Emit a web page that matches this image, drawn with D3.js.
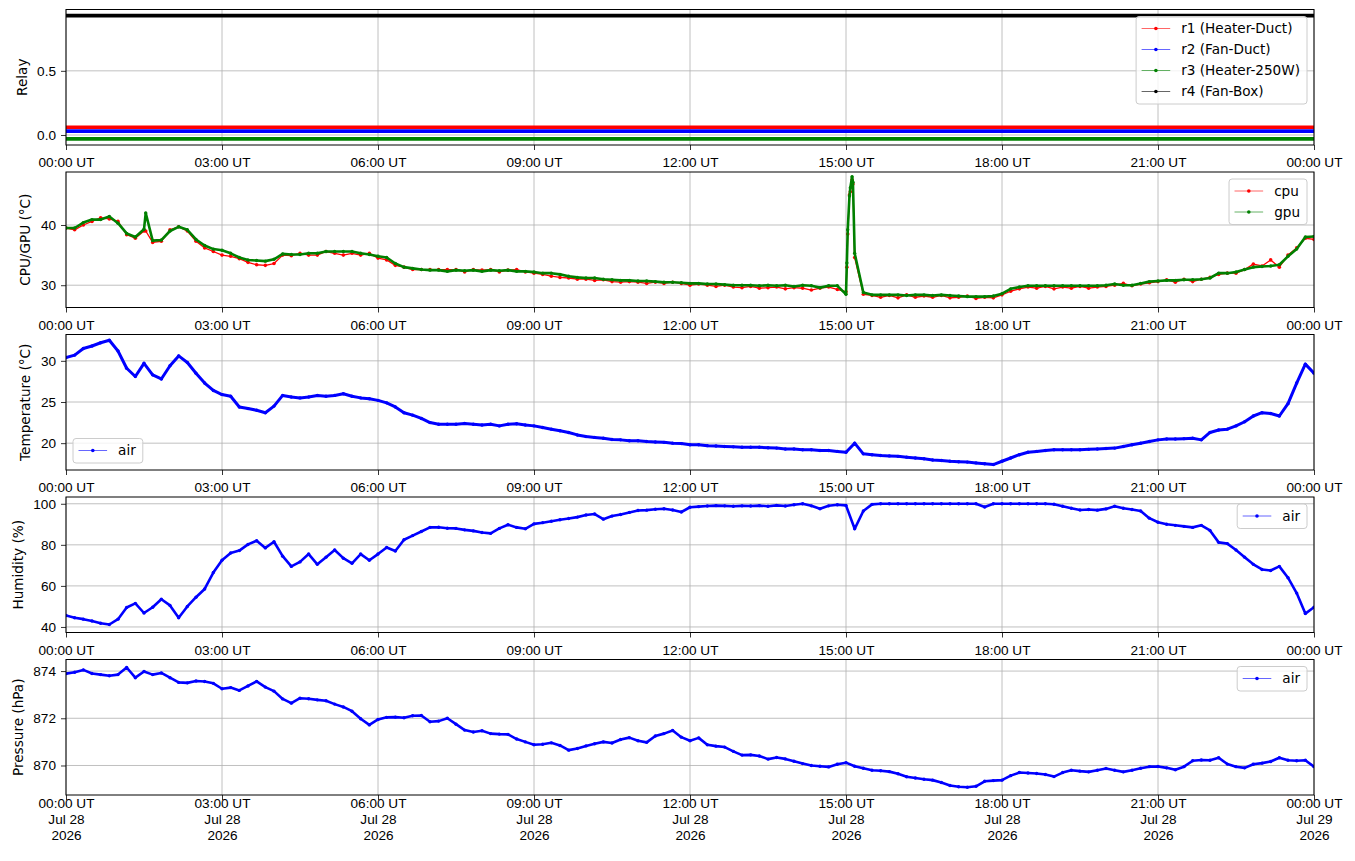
<!DOCTYPE html>
<html lang="en">
<head>
  <meta charset="utf-8"/>
  <title>Enclosure log – Jul 28 2026</title>
  <script src="https://cdn.jsdelivr.net/npm/d3@7/dist/d3.min.js"></script>
  <style>
    html, body { margin:0; padding:0; background:#fff; overflow:hidden; }
    svg { display:block; font-family:"DejaVu Sans", sans-serif; }
    .grid line { stroke:#b0b0b0; stroke-width:0.8; }
    .axis text { font-size:13.6px; fill:#000; }
    .axis line { stroke:#000; stroke-width:0.8; }
    .frame { fill:none; stroke:#000; stroke-width:1; }
    .ylabel { font-size:13.6px; fill:#000; }
    .legend text { font-size:13.6px; fill:#000; }
  </style>
</head>
<body>
<svg width="1355" height="861"></svg>
<script>
// --- data: one sample every 10 minutes, 00:00 UT Jul 28 -> 00:00 UT Jul 29 (one row per hour)
const START = Date.UTC(2026, 6, 28, 0, 0);
const STEP_MIN = 10;

const relayNames  = ["r1 (Heater-Duct)", "r2 (Fan-Duct)", "r3 (Heater-250W)", "r4 (Fan-Box)"];
const relayColors = ["red", "blue", "green", "black"];
const relayLevels = [0.06, 0.03, -0.03, 0.93];

const cpu = [
  39.5, 39.2, 40.0, 40.6, 41.2, 41.0,
  40.6, 38.4, 37.8, 39.0, 37.1, 37.3,
  39.2, 39.7, 39.0, 37.3, 36.2, 35.6,
  35.0, 34.8, 34.4, 33.8, 33.4, 33.3,
  33.6, 35.0, 34.9, 35.3, 35.0, 35.0,
  35.6, 35.3, 35.0, 35.3, 35.0, 35.3,
  34.5, 34.2, 33.3, 33.0, 32.6, 32.6,
  32.6, 32.6, 32.6, 32.6, 32.2, 32.6,
  32.5, 32.6, 32.2, 32.5, 32.6, 32.2,
  32.0, 31.8, 31.5, 31.3, 31.2, 31.0,
  31.0, 30.8, 30.9, 30.6, 30.5, 30.6,
  30.5, 30.3, 30.5, 30.3, 30.5, 30.3,
  30.0, 30.2, 30.0, 29.8, 30.0, 29.7,
  29.6, 29.8, 29.5, 29.6, 29.7, 29.4,
  29.6, 29.5, 29.2, 29.5, 29.7, 29.3,
  28.9, 34.6, 28.5, 28.3, 28.0, 28.3,
  27.9, 28.4, 28.0, 28.2, 28.0, 28.3,
  27.9, 28.0, 28.2, 27.8, 28.0, 27.9,
  28.4, 29.0, 29.4, 29.7, 29.5, 29.8,
  29.4, 29.7, 29.5, 29.8, 29.5, 29.7,
  29.8, 30.0, 30.3, 29.9, 30.2, 30.4,
  30.6, 30.9, 30.5, 31.0, 30.6, 31.0,
  31.3, 31.8, 32.0, 32.0, 32.6, 33.5,
  33.2, 34.2, 33.0, 35.0, 36.2, 37.8,
  37.6
];
const gpu = [
  39.5, 39.5, 40.4, 40.9, 40.9, 41.4,
  40.3, 38.6, 38.0, 39.3, 37.4, 37.5,
  39.0, 39.7, 39.2, 37.6, 36.6, 36.0,
  35.8, 35.3, 34.6, 34.2, 34.1, 34.0,
  34.3, 35.2, 35.1, 35.1, 35.3, 35.3,
  35.6, 35.6, 35.6, 35.6, 35.3, 35.1,
  34.8, 34.6, 33.6, 33.0, 32.8, 32.6,
  32.5, 32.5, 32.3, 32.5, 32.4, 32.5,
  32.3, 32.5, 32.4, 32.5, 32.3, 32.3,
  32.2, 32.0, 32.0, 31.8, 31.5, 31.3,
  31.2, 31.2, 31.0, 30.9, 30.8, 30.8,
  30.7, 30.7, 30.6, 30.5, 30.5, 30.4,
  30.3, 30.3, 30.2, 30.2, 30.1, 30.0,
  30.0, 30.0, 29.9, 30.0, 29.9, 30.0,
  29.8, 30.0, 29.9, 29.6, 29.9, 29.9,
  28.5, 35.3, 28.8, 28.4, 28.4, 28.4,
  28.4, 28.3, 28.4, 28.4, 28.3, 28.4,
  28.3, 28.2, 28.1, 28.1, 28.1, 28.2,
  28.6, 29.4, 29.7, 29.9, 29.9, 29.9,
  29.9, 29.9, 29.9, 29.9, 29.9, 29.9,
  30.0, 30.2, 30.0, 30.0, 30.3, 30.6,
  30.7, 30.8, 30.8, 30.9, 30.9, 31.0,
  31.2, 32.0, 32.0, 32.2, 32.6, 33.0,
  33.1, 33.2, 33.4, 34.8, 36.0, 38.0,
  38.1
];
// extra CPU/GPU samples between the 10-minute rows (minutes after 00:00)
const extraMinutes = [92, 901, 902, 904, 905, 907, 908];
const cpuExtra     = [39.0, 33.0, 38.5, 45.0, 45.5, 47.5, 46.8];
const gpuExtra     = [42.0, 33.7, 39.2, 44.8, 46.2, 48.0, 47.1];

const tempAir = [
  30.4, 30.7, 31.5, 31.8, 32.2, 32.5,
  31.2, 29.1, 28.1, 29.7, 28.3, 27.8,
  29.4, 30.6, 29.8, 28.5, 27.3, 26.4,
  25.9, 25.7, 24.4, 24.2, 24.0, 23.7,
  24.5, 25.8, 25.6, 25.5, 25.6, 25.8,
  25.7, 25.8, 26.0, 25.7, 25.5, 25.4,
  25.2, 24.9, 24.4, 23.7, 23.4, 23.0,
  22.5, 22.3, 22.3, 22.3, 22.4, 22.3,
  22.2, 22.3, 22.1, 22.3, 22.35, 22.2,
  22.1, 21.9, 21.7, 21.5, 21.3, 21.0,
  20.8, 20.7, 20.6, 20.45, 20.4, 20.3,
  20.3, 20.2, 20.15, 20.1, 20.0, 19.95,
  19.8, 19.8, 19.7, 19.65, 19.6, 19.55,
  19.5, 19.5, 19.5, 19.45, 19.4, 19.3,
  19.3, 19.2, 19.2, 19.1, 19.1, 19.0,
  18.9, 20.0, 18.7, 18.6, 18.5, 18.45,
  18.4, 18.3, 18.2, 18.1, 17.95, 17.9,
  17.8, 17.75, 17.7, 17.6, 17.5, 17.4,
  17.8, 18.2, 18.6, 18.9, 19.0, 19.1,
  19.2, 19.2, 19.2, 19.2, 19.25, 19.3,
  19.35, 19.4, 19.6, 19.8, 20.0, 20.2,
  20.4, 20.5, 20.5, 20.55, 20.6, 20.4,
  21.3, 21.6, 21.7, 22.1, 22.6, 23.3,
  23.7, 23.6, 23.3, 24.8, 27.3, 29.6,
  28.5
];
const humAir = [
  45.6, 44.5, 43.8, 42.9, 41.8, 41.2,
  43.8, 49.5, 51.5, 46.8, 49.6, 53.5,
  50.5, 44.5, 50.0, 54.5, 58.5, 66.5,
  72.5, 76.0, 77.2, 80.2, 82.0, 78.5,
  81.5, 74.5, 69.5, 71.7, 75.5, 70.5,
  74.0, 77.5, 73.5, 71.0, 75.5, 72.5,
  75.5, 78.7, 77.0, 82.5, 84.5, 86.5,
  88.5, 88.6, 88.1, 88.0, 87.3, 86.8,
  86.0, 85.6, 88.0, 89.8, 88.5, 87.8,
  90.2, 90.8, 91.5, 92.2, 92.8, 93.5,
  94.5, 95.0, 92.5, 94.0, 94.8, 95.8,
  96.7, 96.9, 97.3, 97.6, 97.0, 96.0,
  98.3, 98.6, 98.9, 99.1, 99.0, 98.8,
  99.0, 98.9, 99.1, 98.8, 99.2, 98.9,
  99.5, 100, 99.0, 97.6, 99.0, 99.5,
  99.2, 87.8, 96.5, 99.7, 100, 100,
  100, 100, 100, 100, 100, 100,
  100, 100, 100, 100, 98.4, 100,
  100, 100, 100, 100, 100, 100,
  99.8, 98.8, 97.8, 97.0, 97.2, 96.9,
  97.5, 98.8, 97.8, 97.2, 96.5, 93.0,
  91.0, 90.0, 89.5, 89.0, 88.5, 89.5,
  87.0, 81.2, 80.6, 77.5, 74.0, 70.5,
  68.0, 67.5, 69.5, 64.0, 56.5, 46.5,
  49.6
];
const pressAir = [
  873.89, 873.95, 874.05, 873.90, 873.85, 873.80,
  873.85, 874.15, 873.72, 873.98, 873.85, 873.92,
  873.72, 873.52, 873.50, 873.58, 873.56, 873.48,
  873.25, 873.30, 873.18, 873.37, 873.56, 873.32,
  873.15, 872.82, 872.64, 872.85, 872.83, 872.78,
  872.74, 872.60, 872.48, 872.30, 871.98, 871.72,
  871.95, 872.04, 872.05, 872.02, 872.11, 872.12,
  871.85, 871.88, 872.00, 871.75, 871.50, 871.42,
  871.47, 871.35, 871.33, 871.32, 871.12, 871.00,
  870.88, 870.90, 870.96, 870.85, 870.65, 870.72,
  870.83, 870.92, 871.00, 870.95, 871.10, 871.18,
  871.05, 870.98, 871.25, 871.35, 871.48, 871.20,
  871.05, 871.17, 870.88, 870.82, 870.78, 870.60,
  870.44, 870.45, 870.40, 870.27, 870.34, 870.28,
  870.18, 870.08, 870.00, 869.97, 869.94, 870.05,
  870.12, 869.97, 869.88, 869.80, 869.78, 869.74,
  869.65, 869.52, 869.47, 869.42, 869.38, 869.28,
  869.15, 869.10, 869.08, 869.12, 869.33, 869.36,
  869.38, 869.57, 869.70, 869.68, 869.66, 869.62,
  869.53, 869.70, 869.80, 869.76, 869.73, 869.80,
  869.87, 869.80, 869.73, 869.80, 869.88, 869.95,
  869.96, 869.90, 869.82, 869.95, 870.20, 870.23,
  870.22, 870.33, 870.06, 869.95, 869.90, 870.05,
  870.10, 870.17, 870.33, 870.22, 870.20, 870.22,
  869.95
];

const relayTicks = [0, 0.5];
const cpuTicks   = [30, 40];
const tempTicks  = [20, 25, 30];
const humTicks   = [40, 60, 80, 100];
const pressTicks = [870, 872, 874];

// --- layout
const svg = d3.select("svg");
const LEFT = 66, RIGHT = 1314, TOP0 = 9.5, STEP = 162.5, PH = 135.5;
const END = START + 24 * 3600e3;
const x = d3.scaleUtc().domain([START, END]).range([LEFT, RIGHT]);
const xTicks = d3.utcHour.every(3).range(new Date(START), new Date(END + 1));
const fmtTime = d3.utcFormat("%H:%M UT");

function toPts(vals) {
  return vals.map((v, i) => ({ t: new Date(START + i * STEP_MIN * 60e3), v }));
}
function withExtra(vals, extra) {
  const pts = toPts(vals).concat(extraMinutes.map((m, i) => ({ t: new Date(START + m * 60e3), v: extra[i] })));
  return pts.sort((a, b) => a.t - b.t);
}

function panel(k, domain, ticks, fmt, label, bottom) {
  const top = TOP0 + k * STEP, bot = top + PH;
  const y = d3.scaleLinear().domain(domain).range([bot, top]);
  const g = svg.append("g");

  // grid
  const grid = g.append("g").attr("class", "grid");
  grid.selectAll("line.v").data(xTicks).join("line").attr("class", "v")
    .attr("x1", d => x(d)).attr("x2", d => x(d)).attr("y1", top).attr("y2", bot);
  grid.selectAll("line.h").data(ticks).join("line").attr("class", "h")
    .attr("x1", LEFT).attr("x2", RIGHT).attr("y1", d => y(d)).attr("y2", d => y(d));

  // plot area (clipped)
  const cid = "clip" + k;
  svg.append("clipPath").attr("id", cid).append("rect")
    .attr("x", LEFT).attr("y", top).attr("width", RIGHT - LEFT).attr("height", PH);
  const plot = g.append("g").attr("clip-path", `url(#${cid})`);

  // axes
  const ax = g.append("g").attr("class", "axis").attr("transform", `translate(0,${bot})`)
    .call(d3.axisBottom(x).tickValues(xTicks).tickSize(5).tickSizeOuter(0).tickPadding(7.5)
      .tickFormat(bottom ? () => "" : fmtTime));
  ax.select(".domain").remove();
  if (bottom) {
    ax.selectAll(".tick text").each(function (d) {
      const t = d3.select(this);
      [fmtTime(d), d3.utcFormat("%b %d")(d), d3.utcFormat("%Y")(d)].forEach((s, i) => {
        t.append("tspan").attr("x", 0).attr("dy", i === 0 ? "0" : "1.2em").text(s);
      });
    });
  }
  const ay = g.append("g").attr("class", "axis").attr("transform", `translate(${LEFT},0)`)
    .call(d3.axisLeft(y).tickValues(ticks).tickSize(5).tickSizeOuter(0).tickPadding(5).tickFormat(fmt));
  ay.select(".domain").remove();

  const bb = ay.node().getBBox();
  g.append("text").attr("class", "ylabel")
    .attr("transform", `translate(${LEFT + bb.x - 10.5},${top + PH / 2}) rotate(-90)`)
    .attr("text-anchor", "middle").text(label);

  g.append("rect").attr("class", "frame")
    .attr("x", LEFT).attr("y", top).attr("width", RIGHT - LEFT).attr("height", PH);

  return { g, plot, y, top, bot };
}

function drawSeries(p, pts, color, lw, r) {
  const line = d3.line().x(d => x(d.t)).y(d => p.y(d.v));
  p.plot.append("path").datum(pts).attr("d", line)
    .attr("fill", "none").attr("stroke", color).attr("stroke-width", lw)
    .attr("stroke-linejoin", "round");
  if (r > 0) {
    p.plot.append("g").selectAll("circle").data(pts).join("circle")
      .attr("cx", d => x(d.t)).attr("cy", d => p.y(d.v)).attr("r", r).attr("fill", color);
  }
}

function legend(p, entries, corner) {
  const lg = p.g.append("g").attr("class", "legend");
  const tmp = lg.append("text");
  const tw = d3.max(entries, e => { tmp.text(e.name); return tmp.node().getComputedTextLength(); });
  tmp.remove();
  const bw = 5.5 + 28.6 + 11 + tw + 7;
  const bh = 12 + (entries.length - 1) * 21 + 12.5;
  const bx = corner === "ll" ? LEFT + 7 : RIGHT - 7 - bw;
  const by = corner === "ll" ? p.bot - 7 - bh : p.top + 7;
  lg.append("rect").attr("x", bx).attr("y", by).attr("width", bw).attr("height", bh)
    .attr("rx", 3).attr("fill", "#fff").attr("fill-opacity", 0.8)
    .attr("stroke", "#cccccc").attr("stroke-width", 1);
  entries.forEach((e, i) => {
    const cy = by + 12 + i * 21;
    lg.append("line").attr("x1", bx + 5.5).attr("x2", bx + 34.1).attr("y1", cy).attr("y2", cy)
      .attr("stroke", e.color).attr("stroke-width", 1).attr("stroke-opacity", 0.6);
    lg.append("circle").attr("cx", bx + 19.8).attr("cy", cy).attr("r", 1.8).attr("fill", e.color);
    lg.append("text").attr("x", bx + 45.1).attr("y", cy).attr("dy", "0.35em").text(e.name);
  });
}

// --- relay panel
const pRelay = panel(0, [-0.078, 0.978], relayTicks, d3.format(".1f"), "Relay");
relayLevels.forEach((lv, i) => {
  drawSeries(pRelay, [{ t: new Date(START), v: lv }, { t: new Date(END), v: lv }], relayColors[i], 3.6, 0);
});
legend(pRelay, relayNames.map((n, i) => ({ name: n, color: relayColors[i] })), "ur");

// --- cpu / gpu panel (gpu drawn on top, cpu shows where it differs)
const pCpu = panel(1, [26.3, 48.8], cpuTicks, d3.format("d"), "CPU/GPU (°C)");
drawSeries(pCpu, withExtra(cpu, cpuExtra), "red", 1.3, 1.8);
drawSeries(pCpu, withExtra(gpu, gpuExtra), "green", 2.6, 1.7);
legend(pCpu, [{ name: "cpu", color: "red" }, { name: "gpu", color: "green" }], "ur");

// --- temperature panel
const pTemp = panel(2, [16.74, 33.2], tempTicks, d3.format("d"), "Temperature (°C)");
drawSeries(pTemp, toPts(tempAir), "blue", 3, 1.7);
legend(pTemp, [{ name: "air", color: "blue" }], "ll");

// --- humidity panel
const pHum = panel(3, [37.3, 103.3], humTicks, d3.format("d"), "Humidity (%)");
drawSeries(pHum, toPts(humAir), "blue", 2.6, 1.7);
legend(pHum, [{ name: "air", color: "blue" }], "ur");

// --- pressure panel
const pPress = panel(4, [868.75, 874.49], pressTicks, d3.format("d"), "Pressure (hPa)", true);
drawSeries(pPress, toPts(pressAir), "blue", 2.6, 1.7);
legend(pPress, [{ name: "air", color: "blue" }], "ur");
</script>
</body>
</html>
